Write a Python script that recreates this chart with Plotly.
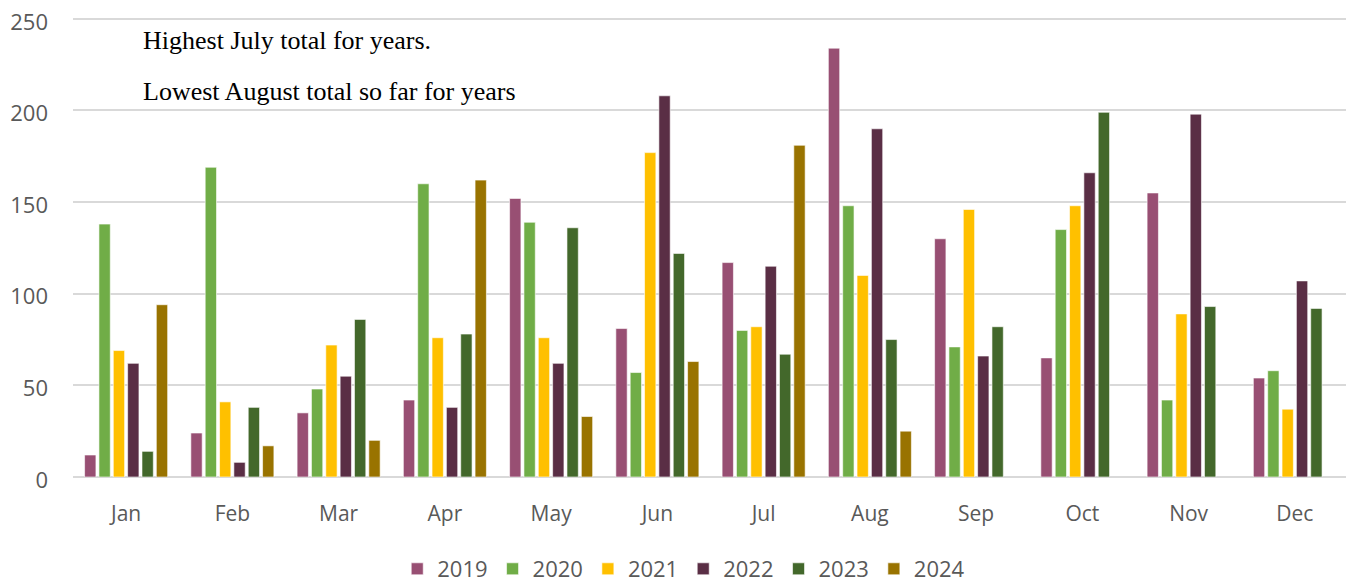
import plotly.graph_objects as go

months = ["Jan", "Feb", "Mar", "Apr", "May", "Jun", "Jul", "Aug", "Sep", "Oct", "Nov", "Dec"]
years = ["2019", "2020", "2021", "2022", "2023", "2024"]
colors = ["#984F73", "#70AD47", "#FFC000", "#5A2E45", "#43682B", "#997300"]

v2019 = [12, 24, 35, 42, 152, 81, 117, 234, 130, 65, 155, 54]
v2020 = [138, 169, 48, 160, 139, 57, 80, 148, 71, 135, 42, 58]
v2021 = [69, 41, 72, 76, 76, 177, 82, 110, 146, 148, 89, 37]
v2022 = [62, 8, 55, 38, 62, 208, 115, 190, 66, 166, 198, 107]
v2023 = [14, 38, 86, 78, 136, 122, 67, 75, 82, 199, 93, 92]
v2024 = [94, 17, 20, 162, 33, 63, 181, 25, None, None, None, None]
series = [v2019, v2020, v2021, v2022, v2023, v2024]

notes = ["Highest July total for years.", "Lowest August total so far for years"]

fig = go.Figure()
for name, vals, col in zip(years, series, colors):
    fig.add_trace(go.Bar(
        x=months, y=vals, name=name,
        marker=dict(color=col, line=dict(color="rgba(255,255,255,0.6)", width=1)),
    ))

fig.update_layout(
    width=1346, height=575,
    paper_bgcolor="white", plot_bgcolor="white",
    margin=dict(l=65, r=6, t=9, b=106, autoexpand=False),
    barmode="group", bargap=0.19, bargroupgap=0.21,
    font=dict(family="Open Sans, sans-serif", size=21, color="#595959"),
    showlegend=True,
    legend=dict(orientation="h", x=0.479, xanchor="center", y=-0.2, yanchor="middle",
                font=dict(size=22, color="#595959"), itemwidth=30, traceorder="normal"),
    xaxis=dict(showgrid=False, showline=False, ticks="", ticklabelstandoff=22,
               tickfont=dict(size=21, color="#595959")),
    yaxis=dict(range=[0, 251], tickvals=[0, 50, 100, 150, 200, 250], showgrid=True,
               gridcolor="#D9D9D9", gridwidth=2,
               zeroline=True, zerolinecolor="#D9D9D9", zerolinewidth=2,
               showline=False, ticks="", ticklabelstandoff=24, ticklabeloverflow="allow",
               ticklabelshift=3,
               tickfont=dict(size=22, color="#595959")),
)

for i, t in enumerate(notes):
    fig.add_annotation(
        text=t, xref="paper", yref="y", x=(141 - 73) / 1275, y=[238, 210.6][i],
        xanchor="left", yanchor="middle", showarrow=False,
        font=dict(family="Liberation Serif, Times New Roman, serif", size=26, color="black"),
    )

fig.write_html("out.html")
